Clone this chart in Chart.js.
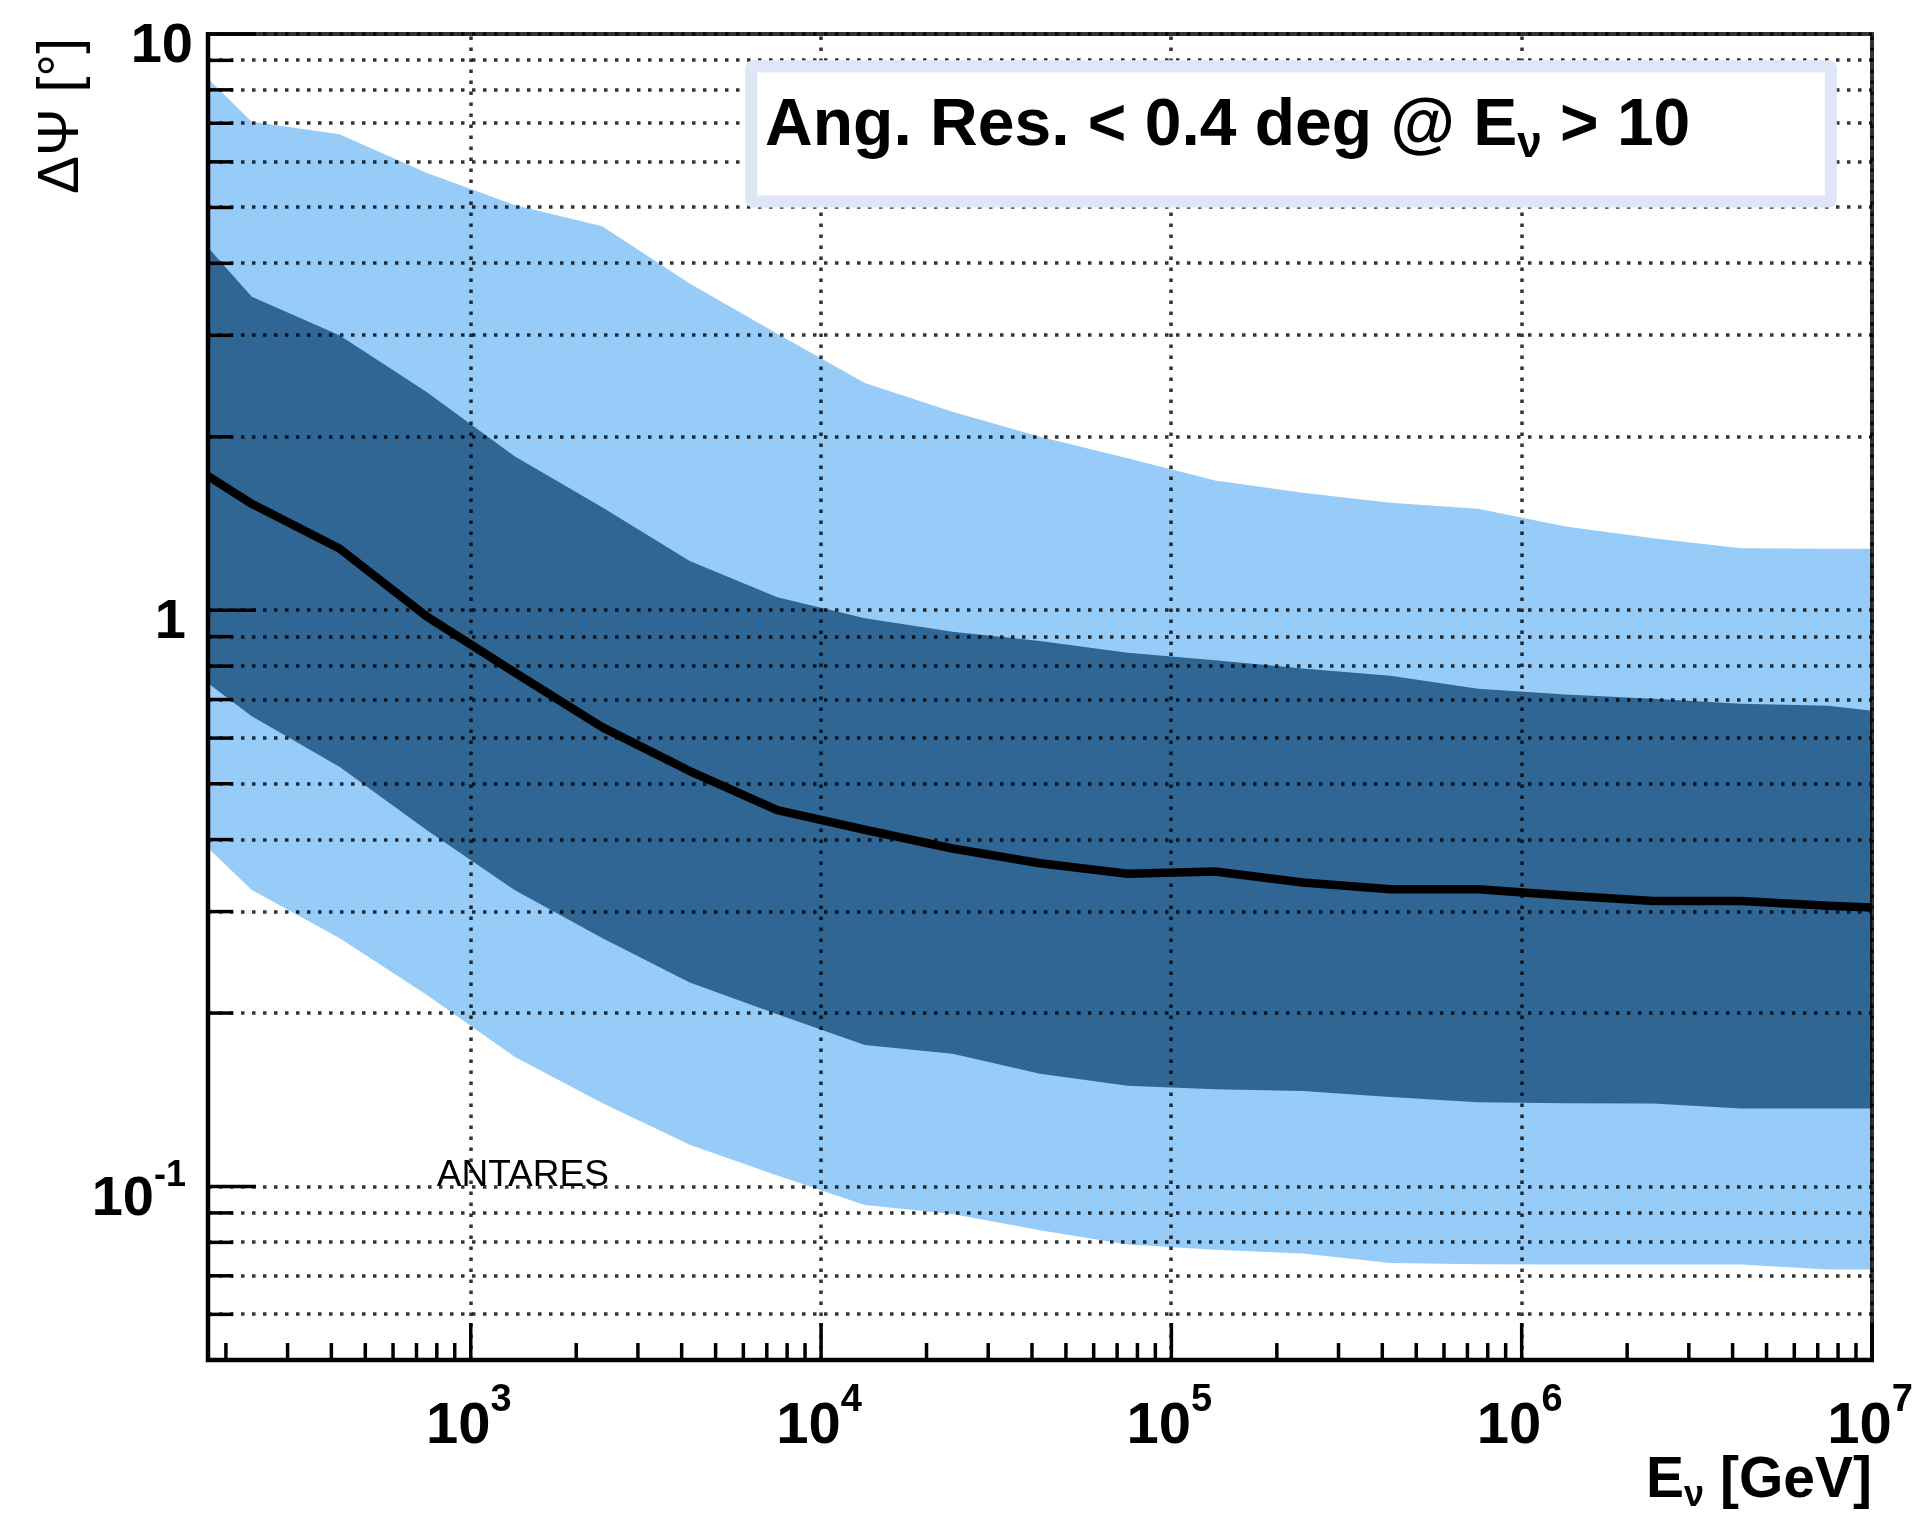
<!DOCTYPE html>
<html lang="en">
<head>
    <meta charset="UTF-8">
    <title>ANTARES angular resolution</title>
    <script src="https://cdn.jsdelivr.net/npm/chart.js"></script>
    <style>
        html, body { margin: 0; padding: 0; background: #ffffff; }
        #resChart { display: block; }
    </style>
</head>
<body>
    <canvas id="resChart" width="1917" height="1516"></canvas>

    <script>
        // Neutrino energy (GeV): centres of 0.25-decade bins, plus both axis edges
        const energies = [177.8, 237.1, 421.7, 749.9, 1333.5, 2371.4, 4217, 7499,
            13335, 23714, 42170, 74989, 133352, 237137, 421697, 749894,
            1333521, 2371374, 4216965, 7498942, 10000000];

        // Angular error ΔΨ in degrees
        const outerHigh = [8.36, 7.04, 6.70, 5.74, 5.05, 4.64, 3.69, 3.02, 2.48, 2.21, 2.00,
            1.835, 1.68, 1.60, 1.536, 1.50, 1.398, 1.334, 1.281, 1.278, 1.278];
        const innerHigh = [4.26, 3.50, 3.00, 2.39, 1.85, 1.51, 1.217, 1.053, 0.969, 0.918, 0.884,
            0.844, 0.819, 0.792, 0.770, 0.731, 0.714, 0.702, 0.688, 0.683, 0.669];
        const median = [1.71, 1.53, 1.28, 0.975, 0.78, 0.627, 0.526, 0.45, 0.416, 0.386, 0.364,
            0.349, 0.352, 0.337, 0.328, 0.328, 0.320, 0.313, 0.313, 0.307, 0.305];
        const innerLow = [0.747, 0.655, 0.535, 0.415, 0.327, 0.270, 0.226, 0.199, 0.176, 0.170, 0.157,
            0.1496, 0.1475, 0.1465, 0.143, 0.140, 0.1395, 0.1394, 0.1366, 0.1366, 0.1366];
        const outerLow = [0.3866, 0.327, 0.270, 0.215, 0.168, 0.1396, 0.1182, 0.1045, 0.0929, 0.0896, 0.0840,
            0.0793, 0.0777, 0.0765, 0.0737, 0.0733, 0.0732, 0.0732, 0.0732, 0.0718, 0.0718];

        // axes
        const xMajorTicks = [1e3, 1e4, 1e5, 1e6, 1e7];
        const xMajorExp = ['3', '4', '5', '6', '7'];
        const xMinorTicks = [200, 300, 400, 500, 600, 700, 800, 900,
            2e3, 3e3, 4e3, 5e3, 6e3, 7e3, 8e3, 9e3,
            2e4, 3e4, 4e4, 5e4, 6e4, 7e4, 8e4, 9e4,
            2e5, 3e5, 4e5, 5e5, 6e5, 7e5, 8e5, 9e5,
            2e6, 3e6, 4e6, 5e6, 6e6, 7e6, 8e6, 9e6];
        const yTicks = [0.06, 0.07, 0.08, 0.09, 0.1, 0.2, 0.3, 0.4, 0.5, 0.6, 0.7, 0.8, 0.9,
            1, 2, 3, 4, 5, 6, 7, 8, 9, 10];
        const yLabelValues = [0.1, 1, 10];
        const yLabelBase = ['10', '1', '10'];
        const yLabelExp = ['-1', '', ''];

        const LIGHT = '#97cbf8';
        const DARK = '#2f6694';
        const FONT = '"Liberation Sans", Arial, Helvetica, sans-serif';

        function pts(arr) {
            return energies.map((e, i) => ({ x: e, y: arr[i] }));
        }

        // text with a superscript
        function drawPow(ctx, base, exp, x, y, align, baseSize, expSize, rise) {
            ctx.font = 'bold ' + baseSize + 'px ' + FONT;
            const wb = ctx.measureText(base).width;
            ctx.font = 'bold ' + expSize + 'px ' + FONT;
            const we = exp ? ctx.measureText(exp).width : 0;
            const total = wb + we;
            let left = x;
            if (align === 'right') left = x - total;
            if (align === 'center') left = x - total / 2;
            ctx.textAlign = 'left';
            ctx.textBaseline = 'alphabetic';
            ctx.font = 'bold ' + baseSize + 'px ' + FONT;
            ctx.fillText(base, left, y);
            if (exp) {
                ctx.font = 'bold ' + expSize + 'px ' + FONT;
                ctx.fillText(exp, left + wb, y - rise);
            }
        }

        // ROOT-like frame: dotted grid on top of the bands, inner ticks, labels
        const rootStyle = {
            id: 'rootStyle',
            afterDatasetsDraw(chart) {
                const ctx = chart.ctx;
                const a = chart.chartArea;
                const xs = chart.scales.x, ys = chart.scales.y;
                ctx.save();
                ctx.strokeStyle = 'rgba(0,0,0,0.8)';
                ctx.lineWidth = 3.5;
                ctx.setLineDash([3.5, 7.5]);
                yTicks.forEach(v => {
                    const py = Math.round(ys.getPixelForValue(v));
                    ctx.beginPath();
                    ctx.moveTo(a.left, py);
                    ctx.lineTo(a.right, py);
                    ctx.stroke();
                });
                xMajorTicks.forEach(v => {
                    const px = Math.round(xs.getPixelForValue(v));
                    ctx.beginPath();
                    ctx.moveTo(px, a.bottom);
                    ctx.lineTo(px, a.top);
                    ctx.stroke();
                });
                ctx.restore();
            },
            afterDraw(chart) {
                const ctx = chart.ctx;
                const a = chart.chartArea;
                const xs = chart.scales.x, ys = chart.scales.y;
                ctx.save();

                // frame
                ctx.strokeStyle = 'rgba(0,0,0,0.8)';
                ctx.lineWidth = 4;
                ctx.beginPath();
                ctx.moveTo(a.left, a.top);
                ctx.lineTo(a.right, a.top);
                ctx.lineTo(a.right, a.bottom);
                ctx.stroke();
                ctx.strokeStyle = '#000';
                ctx.lineWidth = 4.5;
                ctx.beginPath();
                ctx.moveTo(a.left, a.top - 2);
                ctx.lineTo(a.left, a.bottom);
                ctx.lineTo(a.right + 2, a.bottom);
                ctx.stroke();

                // y ticks (inside, pointing right)
                ctx.lineWidth = 3.5;
                yTicks.forEach(v => {
                    const py = ys.getPixelForValue(v);
                    const len = yLabelValues.includes(v) ? 48 : 25;
                    ctx.beginPath();
                    ctx.moveTo(a.left, py);
                    ctx.lineTo(a.left + len, py);
                    ctx.stroke();
                });
                // x ticks (inside, pointing up)
                xMinorTicks.forEach(v => {
                    const px = xs.getPixelForValue(v);
                    ctx.beginPath();
                    ctx.moveTo(px, a.bottom);
                    ctx.lineTo(px, a.bottom - 17);
                    ctx.stroke();
                });
                xMajorTicks.forEach(v => {
                    const px = xs.getPixelForValue(v);
                    ctx.beginPath();
                    ctx.moveTo(px, a.bottom);
                    ctx.lineTo(px, a.bottom - 37);
                    ctx.stroke();
                });

                // tick labels
                ctx.fillStyle = '#000';
                yLabelValues.forEach((v, i) => {
                    const py = ys.getPixelForValue(v);
                    const rx = i === 2 ? a.left - 15 : a.left - 22;
                    drawPow(ctx, yLabelBase[i], yLabelExp[i], rx, py + 28, 'right', 56, 36, 29);
                });
                xMajorTicks.forEach((v, i) => {
                    const px = xs.getPixelForValue(v);
                    drawPow(ctx, '10', xMajorExp[i], px - 2, a.bottom + 83, 'center', 58, 38, 32);
                });

                // x axis title: E_nu [GeV]
                ctx.textBaseline = 'alphabetic';
                ctx.textAlign = 'left';
                ctx.font = 'bold 57px ' + FONT;
                const wE = ctx.measureText('E').width;
                const wRest = ctx.measureText(' [GeV]').width;
                ctx.font = 'bold 36px ' + FONT;
                const wNu = ctx.measureText('\u03bd').width;
                const tx = a.right - (wE + wNu + wRest);
                const tb = a.bottom + 137;
                ctx.font = 'bold 57px ' + FONT;
                ctx.fillText('E', tx, tb);
                ctx.font = 'bold 36px ' + FONT;
                ctx.fillText('\u03bd', tx + wE, tb + 9);
                ctx.font = 'bold 57px ' + FONT;
                ctx.fillText(' [GeV]', tx + wE + wNu, tb);

                // y axis title, rotated
                ctx.save();
                ctx.translate(78, a.top + 4);
                ctx.rotate(-Math.PI / 2);
                ctx.textAlign = 'right';
                ctx.font = '57px ' + FONT;
                ctx.fillText('\u0394\u03a8 [\u00b0]', 0, 0);
                ctx.restore();

                // ANTARES tag
                ctx.font = '37px ' + FONT;
                ctx.textAlign = 'left';
                ctx.fillText('ANTARES', xs.getPixelForValue(800), ys.getPixelForValue(0.1) - 1);

                // headline box
                const bx0 = xs.getPixelForValue(6070), bx1 = xs.getPixelForValue(7.94e6);
                const by0 = ys.getPixelForValue(9.0), by1 = ys.getPixelForValue(5.0);
                ctx.fillStyle = '#dee6f8';
                ctx.beginPath();
                ctx.roundRect(bx0, by0, bx1 - bx0, by1 - by0, 8);
                ctx.fill();
                ctx.fillStyle = '#ffffff';
                ctx.fillRect(bx0 + 12, by0 + 12, bx1 - bx0 - 24, by1 - by0 - 24);

                ctx.fillStyle = '#000';
                ctx.font = 'bold 66px ' + FONT;
                const hb = by0 + 85;
                let hx = bx0 + 20;
                const part1 = 'Ang. Res. < 0.4 deg @ E';
                ctx.fillText(part1, hx, hb);
                hx += ctx.measureText(part1).width;
                ctx.font = 'bold 44px ' + FONT;
                ctx.fillText('\u03bd', hx, hb + 12);
                hx += ctx.measureText('\u03bd').width;
                ctx.font = 'bold 66px ' + FONT;
                ctx.fillText(' > 10', hx, hb);

                ctx.restore();
            }
        };

        const ctx = document.getElementById('resChart').getContext('2d');
        const resChart = new Chart(ctx, {
            type: 'line',
            data: {
                datasets: [
                    { label: 'median', data: pts(median), order: 0, borderColor: '#000', borderWidth: 8.5,
                      borderJoinStyle: 'round', borderCapStyle: 'round', pointRadius: 0, fill: false },
                    { label: 'inner low', data: pts(innerLow), order: 1, borderWidth: 0, pointRadius: 0, fill: false },
                    { label: 'inner high', data: pts(innerHigh), order: 1, borderWidth: 0, pointRadius: 0,
                      backgroundColor: DARK, fill: 1 },
                    { label: 'outer low', data: pts(outerLow), order: 2, borderWidth: 0, pointRadius: 0, fill: false },
                    { label: 'outer high', data: pts(outerHigh), order: 2, borderWidth: 0, pointRadius: 0,
                      backgroundColor: LIGHT, fill: 3 }
                ]
            },
            options: {
                responsive: false,
                animation: false,
                layout: { padding: { left: 208, top: 34, right: 45, bottom: 156 } },
                plugins: {
                    legend: { display: false },
                    tooltip: { enabled: false }
                },
                elements: { line: { tension: 0 } },
                scales: {
                    x: { type: 'logarithmic', min: energies[0], max: 1e7, display: false },
                    y: { type: 'logarithmic', min: 0.05, max: 10, display: false }
                }
            },
            plugins: [rootStyle]
        });
    </script>
</body>
</html>
